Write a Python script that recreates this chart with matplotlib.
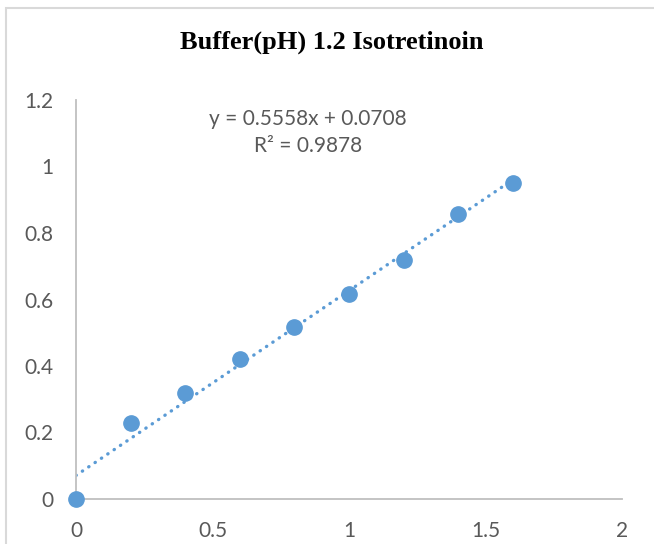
import numpy as np
import matplotlib.pyplot as plt
from matplotlib.patches import Rectangle

# data
conc = [0, 0.2, 0.4, 0.6, 0.8, 1.0, 1.2, 1.4, 1.6]
absorb = [0, 0.23, 0.32, 0.422, 0.516, 0.618, 0.718, 0.857, 0.95]
slope, intercept = 0.5558, 0.0708
xticks = [0, 0.5, 1, 1.5, 2]
yticks = [0, 0.2, 0.4, 0.6, 0.8, 1, 1.2]

blue = '#5B9BD5'
grey = '#595959'

fig = plt.figure(figsize=(6.54, 5.44), dpi=100)
# chart border (cropped at right/bottom like the reference)
fig.patches.append(Rectangle((6/654, -0.1), 1.2, 1 - 8/544 + 0.1,
                             transform=fig.transFigure, fill=False,
                             edgecolor='#D9D9D9', linewidth=1.5))

ax = fig.add_axes([76/654, 1 - 499/544, (622 - 76)/654, (499 - 100)/544])

# dotted trendline over data range
xt = np.array([conc[0], conc[-1]])
ax.plot(xt, slope * xt + intercept, linestyle=(0, (0.1, 2.2)), color=blue,
        linewidth=2.4, dash_capstyle='round', zorder=2)
ax.plot(conc, absorb, 'o', color=blue, markersize=11, zorder=3, clip_on=False)

ax.set_xlim(0, 2)
ax.set_ylim(0, 1.2)
ax.set_xticks(xticks)
ax.set_xticklabels(['0', '0.5', '1', '1.5', '2'])
ax.set_yticks(yticks)
ax.set_yticklabels(['0', '0.2', '0.4', '0.6', '0.8', '1', '1.2'])
ax.tick_params(length=0, labelsize=15, labelcolor=grey, pad=16)
for lab in ax.get_xticklabels() + ax.get_yticklabels():
    lab.set_family('Lato')

for s in ['top', 'right']:
    ax.spines[s].set_visible(False)
for s in ['left', 'bottom']:
    ax.spines[s].set_color('#BFBFBF')
    ax.spines[s].set_linewidth(1.3)

ax.text(0.85, 1.103, 'y = 0.5558x + 0.0708\nR² = 0.9878', ha='center', va='center',
        fontsize=15, color=grey, family='Lato', linespacing=1.45)

fig.text(332/654, 1 - 42/544, 'Buffer(pH) 1.2 Isotretinoin',
         ha='center', va='center', fontsize=19, fontweight='bold',
         family='Liberation Serif')

fig.savefig('out.png', dpi=100)
